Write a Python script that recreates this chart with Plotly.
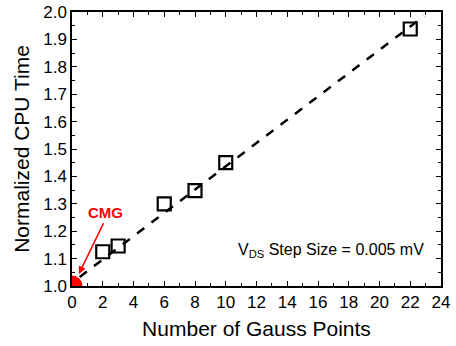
import plotly.graph_objects as go

# Measured CPU time vs. number of Gauss points
gauss_points = [2, 3, 6, 8, 10, 22]
cpu_time = [1.125, 1.146, 1.30, 1.348, 1.45, 1.938]

# Linear trend line endpoints
fit_x = [0.5, 22.9]
fit_y = [1.033, 1.985]

# CMG reference point
cmg_x = [0]
cmg_y = [1.0]

x_ticks = list(range(0, 25, 2))
y_ticks = [round(1.0 + 0.1 * i, 1) for i in range(11)]

FONT = "Liberation Sans, Arial"

fig = go.Figure()

fig.add_trace(go.Scatter(
    x=fit_x, y=fit_y, mode="lines",
    line=dict(color="black", width=2.5, dash="dash"),
    showlegend=False,
))

fig.add_trace(go.Scatter(
    x=gauss_points, y=cpu_time, mode="markers",
    marker=dict(symbol="square-open", size=13, color="black",
                line=dict(width=2.2, color="black")),
    showlegend=False,
))

fig.add_trace(go.Scatter(
    x=cmg_x, y=cmg_y, mode="markers",
    marker=dict(symbol="circle", size=21, color="#ff0000"),
    cliponaxis=True,
    showlegend=False,
))

fig.add_annotation(
    x=0.45, y=1.044, ax=2.1, ay=1.235,
    xref="x", yref="y", axref="x", ayref="y",
    text="", showarrow=True, arrowhead=2, arrowsize=1,
    arrowwidth=1.5, arrowcolor="#ff0000",
)
fig.add_annotation(
    x=2.15, y=1.268, xref="x", yref="y",
    text="<b>CMG</b>", showarrow=False,
    font=dict(family=FONT, size=15, color="#ff0000"),
)
fig.add_annotation(
    x=16.85, y=1.13, xref="x", yref="y",
    text="V<sub>DS</sub> Step Size = 0.005 mV", showarrow=False,
    font=dict(family=FONT, size=16, color="black"),
)

axis_common = dict(
    showline=True, linecolor="black", linewidth=1.5, mirror="allticks",
    ticks="inside", ticklen=5, tickwidth=1.2, tickcolor="black",
    showgrid=False, zeroline=False, automargin=False,
    tickfont=dict(family=FONT, size=17, color="black"),
)

fig.update_xaxes(
    range=[0, 24], tickvals=x_ticks,
    minor=dict(dtick=1, ticks="inside", ticklen=3, tickcolor="black"),
    title=dict(text="Number of Gauss Points", standoff=10,
               font=dict(family=FONT, size=21, color="black")),
    **axis_common,
)
fig.update_yaxes(
    range=[1.0, 2.0], tickvals=y_ticks, tickformat=".1f",
    minor=dict(dtick=0.05, ticks="inside", ticklen=3, tickcolor="black"),
    title=dict(text="Normalized CPU Time", standoff=8,
               font=dict(family=FONT, size=21, color="black")),
    **axis_common,
)

fig.update_layout(
    width=456, height=346,
    margin=dict(l=72, r=15, t=12, b=60),
    plot_bgcolor="white", paper_bgcolor="white",
)

fig.write_html("out.html")
